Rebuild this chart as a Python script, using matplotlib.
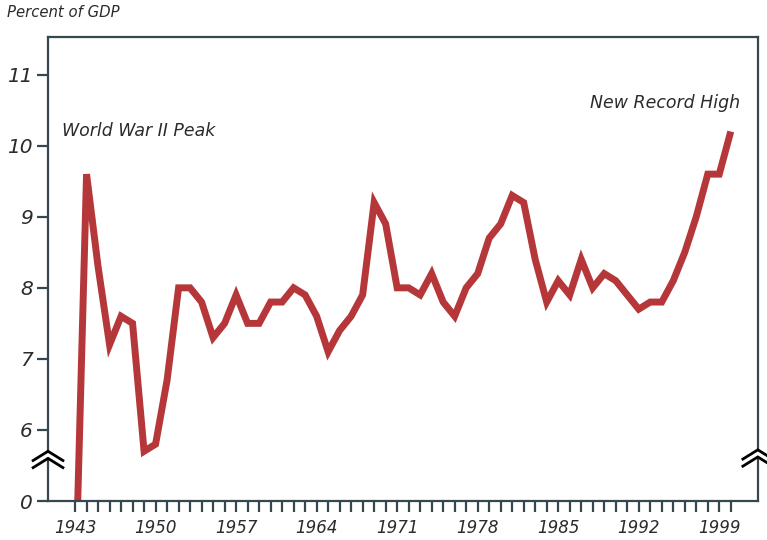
import matplotlib.pyplot as plt
import numpy as np

# Individual income tax receipts, percent of GDP
years = list(range(1943, 2001))
pct_gdp = [3.6, 9.6, 8.3, 7.2, 7.6, 7.5, 5.7, 5.8, 6.7, 8.0,
           8.0, 7.8, 7.3, 7.5, 7.9, 7.5, 7.5, 7.8, 7.8, 8.0,
           7.9, 7.6, 7.1, 7.4, 7.6, 7.9, 9.2, 8.9, 8.0, 8.0,
           7.9, 8.2, 7.8, 7.6, 8.0, 8.2, 8.7, 8.9, 9.3, 9.2,
           8.4, 7.8, 8.1, 7.9, 8.4, 8.0, 8.2, 8.1, 7.9, 7.7,
           7.8, 7.8, 8.1, 8.5, 9.0, 9.6, 9.6, 10.2]

# broken axis: the bottom tick stands for zero
ytick_pos = [5, 6, 7, 8, 9, 10, 11]
ytick_labels = ['0', '6', '7', '8', '9', '10', '11']
xtick_labels = list(range(1943, 2001, 7))

line_color = '#b5373a'
axis_color = '#37474f'
text_color = '#2b2b2b'

fig = plt.figure(figsize=(7.67, 5.40), dpi=100)
ax = fig.add_axes([0.0626, 0.0722, 0.9254, 0.8593])

ax.plot(years, pct_gdp, color=line_color, lw=5.0,
        solid_joinstyle='miter', solid_capstyle='butt')

ax.set_xlim(1940.65, 2002.35)
ax.set_ylim(5, 11.53)

for s in ax.spines.values():
    s.set_color(axis_color)
    s.set_linewidth(1.6)

ax.set_yticks(ytick_pos)
ax.set_yticklabels(ytick_labels, fontsize=14.5, style='italic', color=text_color)
ax.set_xticks(xtick_labels)
ax.set_xticks(years, minor=True)
ax.set_xticklabels([str(y) for y in xtick_labels], fontsize=12,
                   style='italic', color=text_color)
ax.tick_params(axis='y', length=8, width=1.6, color=axis_color, pad=3)
ax.tick_params(axis='x', which='both', length=8, width=1.6,
               color=axis_color, pad=5)

# break marks on both side spines
def break_mark(xa, yv):
    tr = ax.get_yaxis_transform()
    w, h, g = 0.021, 0.13, 0.10
    xs = [xa - w, xa, xa + w]
    ax.fill([xa - w, xa, xa + w, xa + w, xa, xa - w],
            [yv - h, yv, yv - h, yv - h - g, yv - g, yv - h - g],
            color='white', transform=tr, clip_on=False, zorder=5)
    for dy in (0, -g):
        ys = [yv - h + dy, yv + dy, yv - h + dy]
        ax.plot(xs, ys, color='black', lw=2.0, transform=tr, clip_on=False,
                zorder=6, solid_joinstyle='miter')

break_mark(0.0, 5.70)
break_mark(1.0, 5.72)

ax.text(1941.9, 10.14, 'World War II Peak', fontsize=12.5, style='italic',
        color=text_color, va='baseline', ha='left')
ax.text(2000.8, 10.53, 'New Record High', fontsize=12.5, style='italic',
        color=text_color, va='baseline', ha='right')
fig.text(0.009, 0.9685, 'Percent of GDP', fontsize=10.7, style='italic',
         color=text_color, va='baseline', ha='left')

fig.savefig('out.png', dpi=100)
